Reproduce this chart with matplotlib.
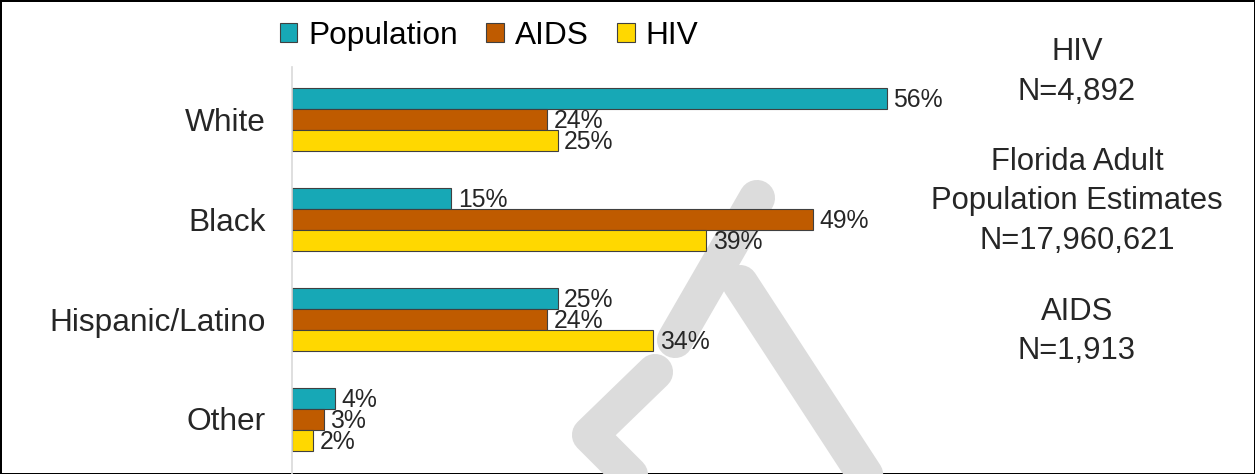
import matplotlib
matplotlib.use('Agg')
import matplotlib.pyplot as plt
from matplotlib.lines import Line2D
import numpy as np

plt.rcParams['font.family'] = ['Liberation Sans', 'DejaVu Sans']

categories = ['White', 'Black', 'Hispanic/Latino', 'Other']
series_names = ['Population', 'AIDS', 'HIV']
population = [56, 15, 25, 4]
aids = [24, 49, 24, 3]
hiv = [25, 39, 34, 2]
colors = ['#17A8B6', '#BF5B00', '#FFD800']
side_notes = ['HIV', 'N=4,892', '', 'Florida Adult', 'Population Estimates',
              'N=17,960,621', '', 'AIDS', 'N=1,913']

W, H = 1255, 474
fig = plt.figure(figsize=(W / 100, H / 100), dpi=100)
fig.patch.set_edgecolor('black')
fig.patch.set_linewidth(2)

# faint watermark behind the chart (pixel coords, y from top)
def px_line(xs, ys, lw=26):
    fig.add_artist(Line2D([x / W for x in xs], [1 - y / H for y in ys],
                          color='#DCDCDC', lw=lw, solid_capstyle='round',
                          solid_joinstyle='round', zorder=-5))

px_line([757, 675], [198, 340])
px_line([655, 590, 645], [372, 435, 490])
px_line([740, 875], [283, 490])

ax = fig.add_axes([292 / W, 0, 637.5 / W, (H - 67) / H])
ax.patch.set_alpha(0)

y = np.arange(len(categories))
h = 0.21
for i, (name, vals) in enumerate(zip(series_names, [population, aids, hiv])):
    pos = y + (i - 1) * h
    bars = ax.barh(pos, vals, height=h, color=colors[i], edgecolor='#404040',
                   linewidth=0.8, label=name)
    for b, v in zip(bars, vals):
        ax.text(v + 0.6, b.get_y() + h / 2 + 0.02, f'{v}%', va='center', ha='left',
                fontsize=17.8, color='#262626')

ax.set_xlim(0, 60)
ax.set_ylim(3.55, -0.52)
ax.set_yticks(y)
ax.set_yticklabels(categories, fontsize=22.8, color='#262626')
ax.tick_params(axis='y', length=0, pad=19)
ax.set_xticks([])
for s in ['top', 'right', 'bottom']:
    ax.spines[s].set_visible(False)
ax.spines['left'].set_color('#D9D9D9')
ax.spines['left'].set_linewidth(1.2)

fig.legend(loc='center', bbox_to_anchor=(489 / W, 1 - 36 / H), ncol=3,
           frameon=False, fontsize=22.8, handlelength=0.55, handleheight=0.55,
           handletextpad=0.35, columnspacing=0.9, borderpad=0)

y0 = 52
for line in side_notes:
    if line:
        fig.text(1077 / W, 1 - y0 / H, line, ha='center', va='center',
                 fontsize=22.3, color='#262626')
    y0 += 39.5 if line else 31

fig.savefig('out.png', dpi=100)
